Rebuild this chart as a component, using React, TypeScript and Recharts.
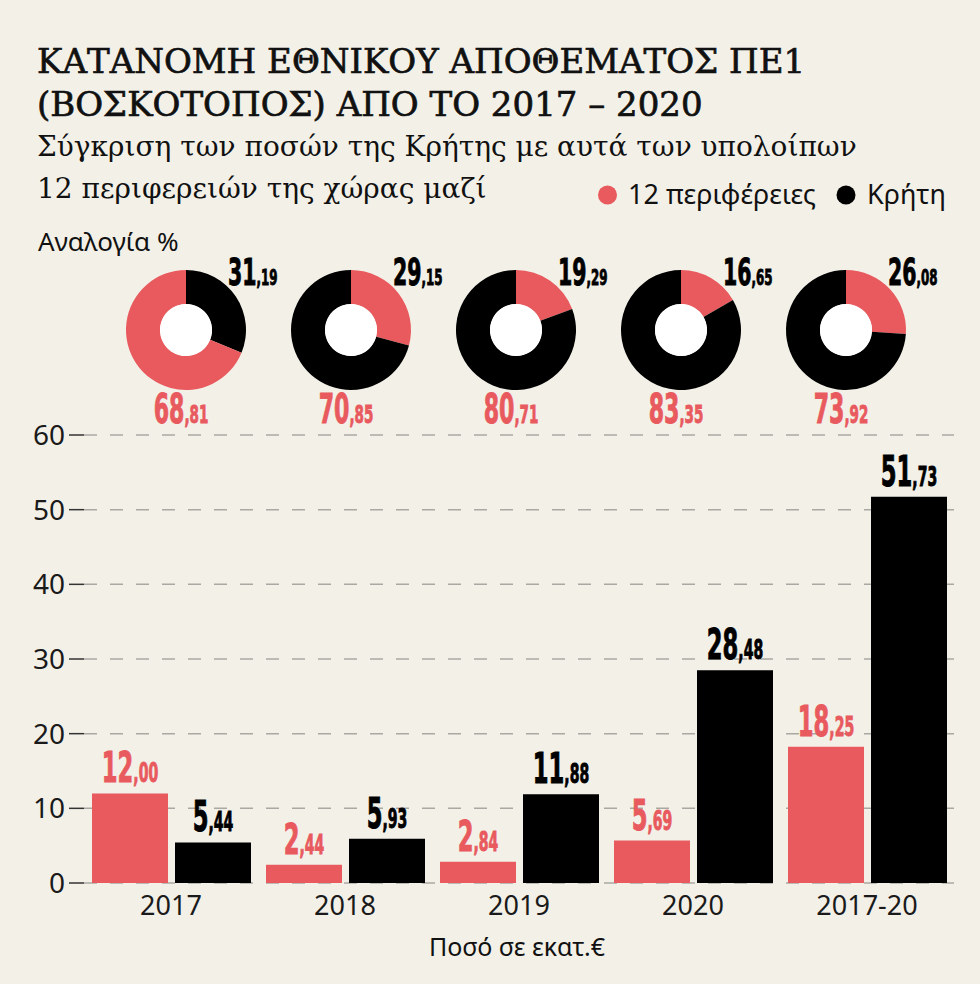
import React from 'react';
import {
  BarChart,
  Bar,
  XAxis,
  YAxis,
  CartesianGrid,
  LabelList,
  PieChart,
  Pie,
  Cell,
} from 'recharts';

const RED = '#e85a5e';
const BLACK = '#000000';
const BG = '#f3f0e8';

const categories = ['2017', '2018', '2019', '2020', '2017-20'];
const regions = [12.0, 2.44, 2.84, 5.69, 18.25];
const crete = [5.44, 5.93, 11.88, 28.48, 51.73];
const yTicks = [0, 10, 20, 30, 40, 50, 60];

// ποσοστά στα ντόνατ: πρώτο το μικρό κομμάτι (δεξιόστροφα από πάνω)
const shareSmall = [31.19, 29.15, 19.29, 16.65, 26.08];
const shareLarge = [68.81, 70.85, 80.71, 83.35, 73.92];
const smallIsCrete = [true, false, false, false, false];

const NUM_FONT = "'DejaVu Sans Condensed', 'DejaVu Sans', sans-serif";
const SANS = "'Noto Sans', 'Open Sans', sans-serif";
const SERIF = "'DejaVu Serif', serif";

function SplitNumber({ x, y, value, color, big, small, anchor = 'middle' }: any) {
  const [i, d] = Number(value).toFixed(2).split('.');
  return (
    <text
      transform={`translate(${x},${y}) scale(0.6,1)`}
      textAnchor={anchor}
      fill={color}
      stroke={color}
      strokeWidth={0.9}
      fontFamily={NUM_FONT}
      fontWeight={700}
    >
      <tspan fontSize={big}>{i}</tspan>
      <tspan fontSize={small}>,{d}</tspan>
    </text>
  );
}

const barLabel = (color: string) => (p: any) => (
  <SplitNumber
    x={Number(p.x) + Number(p.width) / 2}
    y={Number(p.y) - 11}
    value={p.value}
    color={color}
    big={42}
    small={26}
  />
);

const DONUT_X0 = 181;
const DONUT_STEP = 165;
const DONUT_TOP = 245;
const DONUT_CY = 80;

export default function App() {
  const data = categories.map((name, i) => ({ name, regions: regions[i], crete: crete[i] }));

  return (
    <div
      style={{
        position: 'absolute',
        left: 0,
        top: 0,
        width: 980,
        height: 984,
        background: BG,
        overflow: 'hidden',
      }}
    >
      <div style={{ position: 'absolute', left: 0, top: DONUT_TOP }}>
        <PieChart width={980} height={160}>
          {shareSmall.map((s, i) => {
            const slices = [
              { v: s, c: smallIsCrete[i] ? BLACK : RED },
              { v: shareLarge[i], c: smallIsCrete[i] ? RED : BLACK },
            ];
            return (
              <Pie
                key={'d' + i}
                data={slices}
                dataKey="v"
                cx={DONUT_X0 + DONUT_STEP * i}
                cy={DONUT_CY}
                innerRadius={26}
                outerRadius={60}
                startAngle={90}
                endAngle={-270}
                stroke="none"
                isAnimationActive={false}
              >
                {slices.map((sl, j) => (
                  <Cell key={j} fill={sl.c} />
                ))}
              </Pie>
            );
          })}
          {shareSmall.map((_, i) => (
            <Pie
              key={'h' + i}
              data={[{ v: 1 }]}
              dataKey="v"
              cx={DONUT_X0 + DONUT_STEP * i}
              cy={DONUT_CY}
              innerRadius={0}
              outerRadius={26}
              fill="#ffffff"
              stroke="none"
              isAnimationActive={false}
            />
          ))}
        </PieChart>
      </div>

      <div style={{ position: 'absolute', left: 0, top: 400 }}>
        <BarChart
          width={980}
          height={550}
          data={data}
          margin={{ top: 35, right: 26, left: 0, bottom: 0 }}
          barSize={76}
          barGap={7}
        >
          <CartesianGrid
            vertical={false}
            strokeDasharray="13 13"
            stroke="#aaa8a2"
            strokeWidth={1.5}
          />
          <XAxis
            dataKey="name"
            axisLine={false}
            tickLine={false}
            tickSize={0}
            tickMargin={13}
            height={67}
            tick={{ fontSize: 27, fill: '#1a1a1a', fontFamily: SANS }}
          />
          <YAxis
            domain={[0, 60]}
            ticks={yTicks}
            width={84}
            axisLine={false}
            tickSize={15}
            tickMargin={4}
            tickLine={{ stroke: '#333', strokeWidth: 1.5 }}
            tick={{ fontSize: 28, fill: '#1a1a1a', fontFamily: SANS }}
          />
          <Bar dataKey="regions" fill={RED} isAnimationActive={false}>
            <LabelList dataKey="regions" content={barLabel(RED)} />
          </Bar>
          <Bar dataKey="crete" fill={BLACK} isAnimationActive={false}>
            <LabelList dataKey="crete" content={barLabel(BLACK)} />
          </Bar>
        </BarChart>
      </div>

      <svg
        width={980}
        height={984}
        style={{ position: 'absolute', left: 0, top: 0, pointerEvents: 'none' }}
      >
        <g fontFamily={SERIF} fill="#111">
          <text x={37} y={73} fontSize={34} stroke="#111" strokeWidth={0.7}>ΚΑΤΑΝΟΜΗ ΕΘΝΙΚΟΥ ΑΠΟΘΕΜΑΤΟΣ ΠΕ1</text>
          <text x={37} y={116} fontSize={34} stroke="#111" strokeWidth={0.7}>(ΒΟΣΚΟΤΟΠΟΣ) ΑΠΟ ΤΟ 2017 – 2020</text>
          <text x={37} y={156} fontSize={28}>Σύγκριση των ποσών της Κρήτης με αυτά των υπολοίπων</text>
          <text x={37} y={198} fontSize={28}>12 περιφερειών της χώρας μαζί</text>
        </g>
        <g fontFamily={SANS} fill="#111">
          <circle cx={607.5} cy={195} r={9.5} fill={RED} />
          <text x={628} y={204} fontSize={27}>12 περιφέρειες</text>
          <circle cx={846} cy={195} r={9.5} fill={BLACK} />
          <text x={867} y={204} fontSize={27}>Κρήτη</text>
          <text x={38} y={251} fontSize={26}>Αναλογία %</text>
          <text x={517} y={956} fontSize={25} textAnchor="middle">Ποσό σε εκατ.€</text>
        </g>
        {shareSmall.map((s, i) => {
          const cx = DONUT_X0 + DONUT_STEP * i;
          const cy = DONUT_TOP + DONUT_CY;
          return (
            <g key={'t' + i}>
              <SplitNumber x={cx + 47} y={cy - 40} value={s} color={BLACK} big={38} small={22} anchor="start" />
              <SplitNumber x={cx} y={cy + 98} value={shareLarge[i]} color={RED} big={41} small={25} />
            </g>
          );
        })}
      </svg>
    </div>
  );
}
